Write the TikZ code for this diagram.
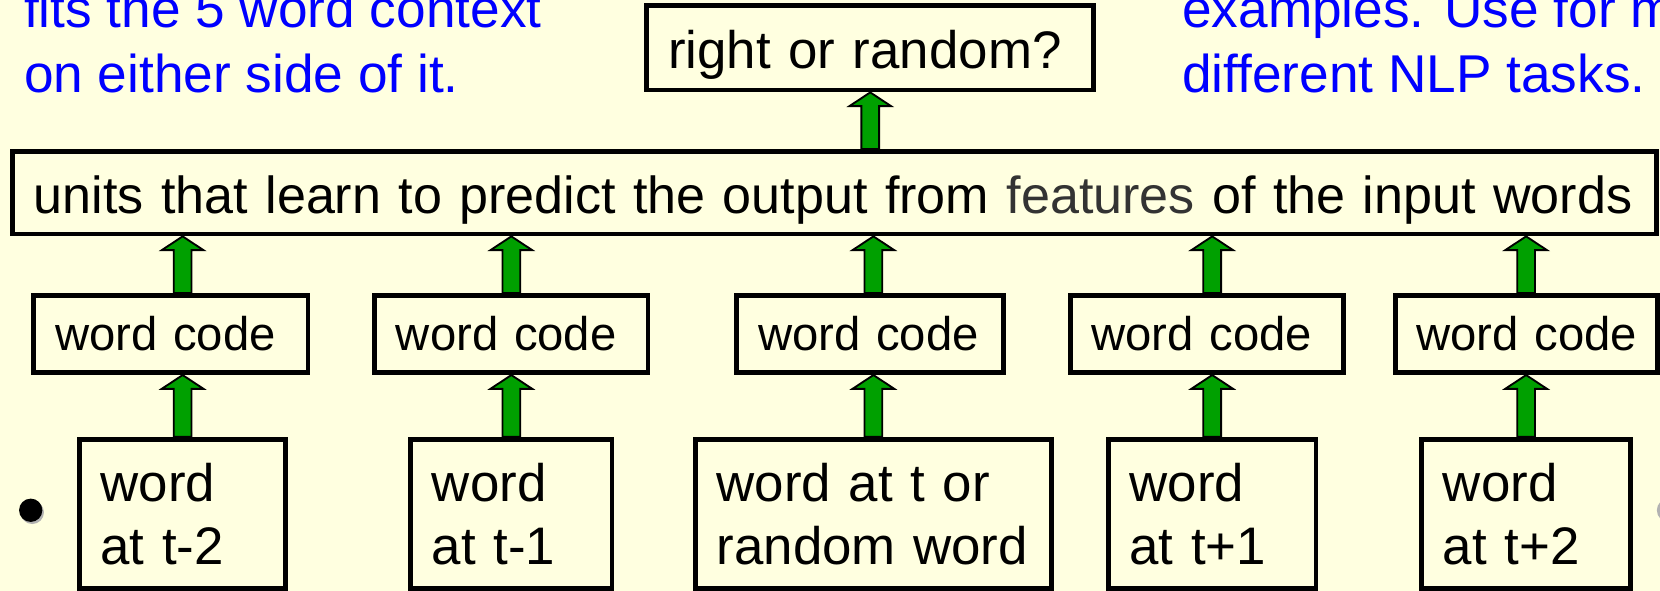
\documentclass[tikz,border=0pt]{standalone}
\usepackage{fontspec}
\setmainfont{Liberation Sans}
\usetikzlibrary{positioning, calc}

\definecolor{slidebg}{RGB}{255,255,224}
\definecolor{arrowgreen}{RGB}{0,160,0}
\definecolor{featgray}{RGB}{51,51,51}

\newcommand{\blockup}[2]{%
  \draw[blockarrow] let \p1=(#1), \p2=(#2) in
    (\x1-0.084cm,\y1) -- (\x1-0.084cm,\y2-0.13cm) -- (\x1-0.197cm,\y2-0.13cm)
    -- (\x1,\y2) -- (\x1+0.197cm,\y2-0.13cm) -- (\x1+0.084cm,\y2-0.13cm)
    -- (\x1+0.084cm,\y1) -- cycle;}

\begin{document}
\begin{tikzpicture}
    \tikzstyle{box}=[rectangle, draw=black, line width=1.3pt, fill=slidebg, inner xsep=0.2cm, inner ysep=0pt, align=left, font=\fontsize{14.2}{17}\selectfont];
    \tikzstyle{codebox}=[box, minimum height=0.73cm, text height=0.41cm, text depth=0.1cm, font=\fontsize{12.7}{15}\selectfont];
    \tikzstyle{wordbox}=[box, minimum height=1.41cm];
    \tikzstyle{note}=[anchor=base west, inner sep=0pt, text=blue, font=\fontsize{14.3}{17}\selectfont];
    \tikzstyle{blockarrow}=[fill=arrowgreen, draw=black, line width=0.5pt, line join=miter];

    \fill[slidebg] (0,0) rectangle (15.68,5.58);
    \useasboundingbox (0,0) rectangle (15.68,5.58);

    \node[note] (left1) at (0.22, 5.32) {fits the 5 word context};
    \node[note] (left2) at (0.22, 4.71) {on either side of it.};
    \node[note] (right1) at (11.16, 5.32) {examples. Use for m};
    \node[note] (right2) at (11.16, 4.71) {different NLP tasks.};

    \node[box, text width=3.82cm, minimum height=0.8cm, text height=0.5cm, text depth=0.11cm] (out) at (8.22, 5.13) {\mbox{right or random?}};
    \node[box, text width=15.13cm, minimum height=0.78cm, text height=0.5cm, text depth=0.11cm, font=\fontsize{14}{17}\selectfont] (units) at (7.885, 3.76)
    {\mbox{units that learn to predict the output from {\color{featgray}features} of the input words}};

    \node[codebox, text width=2.19cm] (c1) at (1.615, 2.425) {\mbox{word code}};
    \node[codebox, text width=2.18cm] (c2) at (4.83, 2.425) {\mbox{word code}};
    \node[codebox, text width=2.12cm] (c3) at (8.22, 2.425) {\mbox{word code}};
    \node[codebox, text width=2.18cm] (c4) at (11.40, 2.425) {\mbox{word code}};
    \node[codebox, text width=2.08cm] (c5) at (14.42, 2.425) {\mbox{word code}};

    \node[wordbox, text width=1.55cm] (w1) at (1.725, 0.725) {word\\at t-2};
    \node[wordbox, text width=1.50cm] (w2) at (4.83, 0.725) {word\\at t-1};
    \node[wordbox, text width=2.96cm] (w3) at (8.25, 0.725) {word at t or\\random word};
    \node[wordbox, text width=1.56cm] (w4) at (11.45, 0.725) {word\\at t+1};
    \node[wordbox, text width=1.57cm] (w5) at (14.415, 0.725) {word\\at t+2};

    \blockup{units.north -| out.south}{out.south}
    \blockup{c1.north -| w1.north}{units.south}
    \blockup{c2.north -| w2.north}{units.south}
    \blockup{c3.north -| w3.north}{units.south}
    \blockup{c4.north -| w4.north}{units.south}
    \blockup{c5.north -| w5.north}{units.south}
    \blockup{w1.north}{c1.south}
    \blockup{w2.north}{c2.south}
    \blockup{w3.north}{c3.south}
    \blockup{w4.north}{c4.south}
    \blockup{w5.north}{c5.south}

    \fill[gray!60] (0.305, 0.74) circle (0.11);
    \fill[black] (0.29, 0.76) circle (0.11);
    \fill[gray!60] (15.76, 0.76) circle (0.11);
\end{tikzpicture}
\end{document}
